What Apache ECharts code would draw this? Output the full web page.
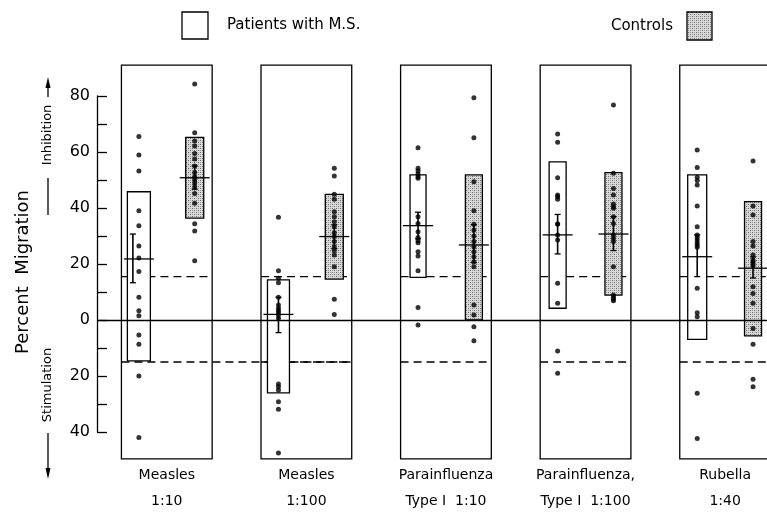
<!DOCTYPE html>
<html><head><meta charset="utf-8">
<script src="https://cdn.jsdelivr.net/npm/echarts@6/dist/echarts.min.js"></script>
<style>html,body{margin:0;padding:0;background:#fff}#c{width:767px;height:512px}</style>
</head><body><div id="c"></div>
<script>
// ---------- data ----------
const categories = ['Measles\n1:10', 'Measles\n1:100', 'Parainfluenza\nType I  1:10', 'Parainfluenza,\nType I  1:100', 'Rubella\n1:40'];
const yTickValues = [-40, -20, 0, 20, 40, 60, 80];

const msDots = [
  [65.5, 58.9, 53.2, 39.0, 33.7, 26.4, 22.1, 17.3, 8.1, 3.3, 1.5, -5.4, -8.7, -20, -42],
  [36.7, 17.6, 14.9, 13.3, 8.1, 5.4, 4.2, 3.3, 2.6, 1.8, 0.6, -22.9, -23.8, -25, -29.2, -31.9, -47.5],
  [61.5, 54.2, 53.2, 52.1, 51.2, 50.6, 36.9, 34.5, 31.5, 29.5, 28.3, 27.6, 24.4, 22.9, 17.6, 4.5, -1.8],
  [66.4, 63.5, 50.8, 44.6, 44.0, 43.1, 34.3, 34.3, 30.4, 28.6, 13.1, 6.0, -11.1, -19],
  [60.7, 54.5, 51, 49.8, 48.2, 40.7, 33.3, 30.4, 29.5, 28.6, 27.6, 26.8, 26, 11.3, 2.6, 1.2, -26.2, -42.3]
];
const ctrlDots = [
  [84.3, 66.9, 63.9, 62.1, 59.5, 57.5, 55, 52.7, 51.2, 50.2, 49, 47.6, 45.2, 41.7, 34.4, 31.8, 21.2],
  [54.2, 51.4, 44.9, 43.1, 38.7, 36.9, 35.1, 33.3, 31.2, 29.8, 28, 26.2, 24.8, 23.2, 19.0, 7.4, 2.0],
  [79.4, 65.1, 49.4, 39.0, 34.2, 32.1, 30, 28, 26.2, 24.4, 22.6, 20.8, 19, 5.4, 1.8, -2.4, -7.4],
  [76.8, 52.4, 47, 44.6, 41.4, 40.5, 39.9, 36.9, 34.5, 30.4, 29.2, 28, 19, 8.9, 8.1, 7.4, 6.9],
  [56.8, 40.7, 37.5, 28, 26.4, 23.2, 21.4, 20.8, 20, 19.3, 11.9, 9.5, 6, -3, -8.7, -21.2, -23.8]
];
const msBoxLow  = [-14.6, -26, 15.2, 4.2, -6.9];
const msBoxHigh = [45.8, 14.3, 51.8, 56.5, 51.8];
const msMean    = [21.8, 2.0, 33.7, 30.4, 22.6];
const msSeLow   = [13.3, -4.5, 29.0, 23.6, 15.5];
const msSeHigh  = [30.7, 8.1, 38.5, 37.7, 30.4];
const ctrlBoxLow  = [36.4, 14.6, 0, 8.9, -5.7];
const ctrlBoxHigh = [65.2, 44.9, 51.8, 52.6, 42.3];
const ctrlMean    = [50.8, 29.8, 26.8, 30.7, 18.5];
const ctrlSeLow   = [46.7, 25.5, 20.5, 24.8, 15.0];
const ctrlSeHigh  = [55.0, 34.0, 34.0, 36.9, 22.5];
const normalHigh = 15.5;
const normalLow = -15;

// ---------- style / layout constants ----------
const FONT = 'DejaVu Sans';
const GROUP_OFF = 0.2;
const PANEL_HALF = 0.325, PANEL_TOP = 91, PANEL_BOTTOM = -49.6;
const msBoxW = [23, 22, 16, 17, 19], ctrlBoxW = [18, 18, 17, 17, 17];
const msSeShiftPx = [-6, 0, 0, 0, 0];
const lowerJoinsNext = [true, false, false, false, false];
const LW = 1.3;

function stipple() {
  const c = document.createElement('canvas');
  c.width = 4; c.height = 4;
  const g = c.getContext('2d');
  g.fillStyle = '#dadada'; g.fillRect(0, 0, 4, 4);
  g.fillStyle = '#6a6a6a';
  g.fillRect(0, 0, 1, 1); g.fillRect(2, 2, 1, 1);
  g.fillStyle = '#a0a0a0';
  g.fillRect(2, 0, 1, 1); g.fillRect(0, 2, 1, 1);
  return c;
}
const pat = stipple();
const patFill = { image: pat, repeat: 'repeat' };

const chart = echarts.init(document.getElementById('c'), null, { renderer: 'canvas' });
const idx = categories.map((_, i) => [i]);

function boxSeries(low, high, widths, off, fill) {
  return {
    type: 'custom', clip: false, z: 4, silent: true,
    data: categories.map((_, i) => [i, low[i], high[i]]),
    renderItem: function (params, api) {
      const i = api.value(0);
      const cx = api.coord([i + off, 0])[0];
      const yl = api.coord([i, api.value(1)])[1];
      const yh = api.coord([i, api.value(2)])[1];
      const w = widths[params.dataIndex];
      return { type: 'rect', shape: { x: cx - w / 2, y: yh, width: w, height: yl - yh },
        style: { fill: fill, stroke: '#000', lineWidth: LW } };
    }
  };
}
function meanSeries(mean, lo, hi, off, shifts) {
  return {
    type: 'custom', clip: false, z: 6, silent: true,
    data: categories.map((_, i) => [i, mean[i], lo[i], hi[i]]),
    renderItem: function (params, api) {
      const i = api.value(0);
      const cx = api.coord([i + off, 0])[0];
      const ym = api.coord([i, api.value(1)])[1];
      const yl = api.coord([i, api.value(2)])[1];
      const yh = api.coord([i, api.value(3)])[1];
      const sx = cx + (shifts ? shifts[params.dataIndex] : 0);
      const st = { stroke: '#000', lineWidth: LW };
      return { type: 'group', children: [
        { type: 'line', shape: { x1: cx - 15, y1: ym, x2: cx + 15, y2: ym }, style: st },
        { type: 'line', shape: { x1: sx, y1: yl, x2: sx, y2: yh }, style: { stroke: '#000', lineWidth: 1.6 } },
        { type: 'line', shape: { x1: sx - 3, y1: yl, x2: sx + 3, y2: yl }, style: st },
        { type: 'line', shape: { x1: sx - 3, y1: yh, x2: sx + 3, y2: yh }, style: st }
      ] };
    }
  };
}
function dotsData(groups, off) {
  const out = [];
  groups.forEach((arr, i) => arr.forEach(v => out.push([i + off, v])));
  return out;
}

const option = {
  animation: false,
  backgroundColor: '#fff',
  grid: { left: 97, right: 0, top: 96, bottom: 80 },
  xAxis: { type: 'value', min: -0.5, max: 4.3, show: false },
  yAxis: {
    type: 'value', min: -40, max: 80, interval: 10,
    axisLine: { show: true, onZero: false, lineStyle: { color: '#000', width: LW } },
    axisTick: { show: true, inside: true, length: 10, lineStyle: { color: '#000', width: LW } },
    splitLine: { show: false },
    axisLabel: {
      margin: 7, color: '#000', fontFamily: FONT, fontSize: 16,
      formatter: v => yTickValues.indexOf(v) >= 0 ? String(Math.abs(v)) : ''
    }
  },
  graphic: [
    { type: 'rect', shape: { x: 182, y: 12, width: 26, height: 27 }, style: { fill: '#fff', stroke: '#000', lineWidth: LW } },
    { type: 'text', x: 227, y: 25, style: { text: 'Patients with M.S.', fontFamily: FONT, fontSize: 15, fill: '#000', align: 'left', verticalAlign: 'middle' } },
    { type: 'text', x: 673, y: 26, style: { text: 'Controls', fontFamily: FONT, fontSize: 15, fill: '#000', align: 'right', verticalAlign: 'middle' } },
    { type: 'rect', shape: { x: 687, y: 12, width: 25, height: 28 }, style: { fill: patFill, stroke: '#000', lineWidth: LW } },
    { type: 'text', x: 23, y: 272, rotation: Math.PI / 2, style: { text: 'Percent  Migration', fontFamily: FONT, fontSize: 18, fill: '#000', align: 'center', verticalAlign: 'middle' } },
    { type: 'text', x: 48, y: 135, rotation: Math.PI / 2, style: { text: 'Inhibition', fontFamily: FONT, fontSize: 13, fill: '#000', align: 'center', verticalAlign: 'middle' } },
    { type: 'line', shape: { x1: 48, y1: 178, x2: 48, y2: 215 }, style: { stroke: '#000', lineWidth: LW } },
    { type: 'line', shape: { x1: 48, y1: 86, x2: 48, y2: 97 }, style: { stroke: '#000', lineWidth: LW } },
    { type: 'polygon', shape: { points: [[48, 77], [45.5, 88], [50.5, 88]] }, style: { fill: '#000' } },
    { type: 'text', x: 48, y: 385, rotation: Math.PI / 2, style: { text: 'Stimulation', fontFamily: FONT, fontSize: 13, fill: '#000', align: 'center', verticalAlign: 'middle' } },
    { type: 'line', shape: { x1: 48, y1: 433, x2: 48, y2: 470 }, style: { stroke: '#000', lineWidth: LW } },
    { type: 'polygon', shape: { points: [[48, 479], [45.5, 468], [50.5, 468]] }, style: { fill: '#000' } }
  ],
  series: [
    { // panel frames
      type: 'custom', clip: false, z: 1, silent: true, data: idx,
      renderItem: function (params, api) {
        const i = api.value(0);
        const p1 = api.coord([i - PANEL_HALF, PANEL_TOP]);
        const p2 = api.coord([i + PANEL_HALF, PANEL_BOTTOM]);
        return { type: 'rect', shape: { x: p1[0], y: p1[1], width: p2[0] - p1[0], height: p2[1] - p1[1] },
          style: { fill: 'none', stroke: '#000', lineWidth: LW } };
      }
    },
    { // dashed normal-range lines
      type: 'custom', clip: false, z: 2, silent: true, data: idx,
      renderItem: function (params, api) {
        const i = api.value(0);
        const st = { stroke: '#000', lineWidth: LW, lineDash: [8, 5] };
        const xl = api.coord([i - PANEL_HALF, 0])[0];
        const xr = api.coord([i + PANEL_HALF, 0])[0];
        const xr2 = lowerJoinsNext[params.dataIndex] ? api.coord([i + 1 + PANEL_HALF, 0])[0] : xr;
        const yh = api.coord([i, normalHigh])[1];
        const yl = api.coord([i, normalLow])[1];
        return { type: 'group', children: [
          { type: 'line', shape: { x1: xl, y1: yh, x2: xr, y2: yh }, style: st },
          { type: 'line', shape: { x1: xl, y1: yl, x2: xr2, y2: yl }, style: st }
        ] };
      }
    },
    boxSeries(msBoxLow, msBoxHigh, msBoxW, -GROUP_OFF, '#fff'),
    boxSeries(ctrlBoxLow, ctrlBoxHigh, ctrlBoxW, GROUP_OFF, patFill),
    { // zero line
      type: 'line', data: [], z: 5, silent: true,
      markLine: { silent: true, symbol: 'none', label: { show: false },
        lineStyle: { color: '#000', type: 'solid', width: LW }, data: [{ yAxis: 0 }] }
    },
    meanSeries(msMean, msSeLow, msSeHigh, -GROUP_OFF, msSeShiftPx),
    meanSeries(ctrlMean, ctrlSeLow, ctrlSeHigh, GROUP_OFF, null),
    { type: 'scatter', z: 7, silent: true, symbol: 'circle', symbolSize: 5, clip: false,
      itemStyle: { color: '#000' }, data: dotsData(msDots, -GROUP_OFF) },
    { type: 'scatter', z: 7, silent: true, symbol: 'circle', symbolSize: 5, clip: false,
      itemStyle: { color: '#000' }, data: dotsData(ctrlDots, GROUP_OFF) },
    { // category labels
      type: 'custom', clip: false, z: 3, silent: true, data: idx,
      renderItem: function (params, api) {
        const i = api.value(0);
        const p = api.coord([i, PANEL_BOTTOM]);
        return { type: 'text', x: p[0], y: p[1] + 3,
          style: { text: categories[params.dataIndex], fontFamily: FONT, fontSize: 14, lineHeight: 26,
            fill: '#000', align: 'center', verticalAlign: 'top' } };
      }
    }
  ]
};
chart.setOption(option);
</script>
</body></html>
